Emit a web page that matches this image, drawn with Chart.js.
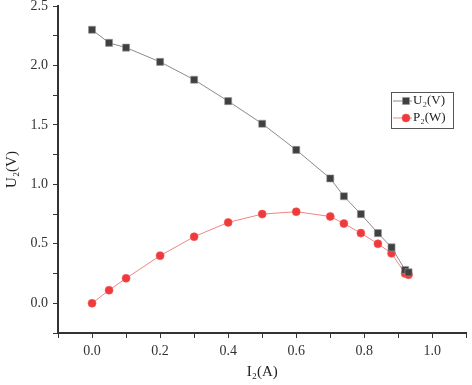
<!DOCTYPE html>
<html>
<head>
<meta charset="utf-8">
<script src="https://cdn.jsdelivr.net/npm/chart.js@4"></script>
<style>
  html, body { margin: 0; padding: 0; background: #fff; }
  #wrap { width: 472px; height: 385px; }
</style>
</head>
<body>
<div id="wrap"><canvas id="myChart" width="472" height="385"></canvas></div>
<script>
// current I2 (A)
const current = [0, 0.05, 0.1, 0.2, 0.3, 0.4, 0.5, 0.6, 0.7, 0.74, 0.79, 0.84, 0.88, 0.92, 0.93];
// voltage U2 (V)
const voltage = [2.30, 2.19, 2.15, 2.03, 1.88, 1.70, 1.51, 1.29, 1.05, 0.90, 0.75, 0.59, 0.47, 0.28, 0.26];
// power P2 (W)
const power = [0, 0.11, 0.21, 0.40, 0.56, 0.68, 0.75, 0.77, 0.73, 0.67, 0.59, 0.50, 0.42, 0.25, 0.24];

const xTicks = [-0.1, 0, 0.1, 0.2, 0.3, 0.4, 0.5, 0.6, 0.7, 0.8, 0.9, 1.0, 1.1];
const xLabels = [0, 0.2, 0.4, 0.6, 0.8, 1.0];
const yTicks = [-0.25, 0, 0.25, 0.5, 0.75, 1.0, 1.25, 1.5, 1.75, 2.0, 2.25, 2.5];
const yLabels = [0, 0.5, 1.0, 1.5, 2.0, 2.5];

const seriesNames = ["U\u2082(V)", "P\u2082(W)"];

const serif = "'Liberation Serif', 'DejaVu Serif', serif";
const axisColor = "#333";

const showIf = (list) => (v) => {
  const hit = list.find((t) => Math.abs(t - v) < 1e-6);
  return hit === undefined ? "" : hit.toFixed(1);
};

// legend box like the original: line with marker in the middle
const boxLegend = {
  id: "boxLegend",
  afterDraw(chart) {
    const ctx = chart.ctx;
    const x0 = 391, y0 = 92, w = 62, h = 36;
    ctx.save();
    ctx.strokeStyle = "#555";
    ctx.lineWidth = 1;
    ctx.strokeRect(x0 + 0.5, y0 + 0.5, w, h);
    ctx.font = "13px " + serif;
    ctx.textBaseline = "middle";
    chart.data.datasets.forEach((ds, i) => {
      const yy = y0 + 9 + i * 17;
      ctx.strokeStyle = ds.borderColor;
      ctx.lineWidth = 1;
      ctx.beginPath();
      ctx.moveTo(x0 + 2, yy);
      ctx.lineTo(x0 + 21, yy);
      ctx.stroke();
      ctx.fillStyle = ds.pointBackgroundColor;
      ctx.strokeStyle = ds.pointBorderColor;
      ctx.lineWidth = ds.pointBorderWidth;
      ctx.beginPath();
      if (ds.pointStyle === "rect") {
        const s = ds.pointRadius * Math.SQRT1_2;
        ctx.rect(x0 + 15 - s, yy - s, 2 * s, 2 * s);
      } else {
        ctx.arc(x0 + 15, yy, ds.pointRadius, 0, Math.PI * 2);
      }
      ctx.fill();
      ctx.stroke();
      ctx.fillStyle = "#222";
      ctx.fillText(ds.label, x0 + 22, yy);
    });
    ctx.restore();
  },
};

const data = {
  datasets: [
    {
      label: seriesNames[0],
      data: current.map((c, i) => ({ x: c, y: voltage[i] })),
      borderColor: "#8a8a8a",
      borderWidth: 1,
      pointStyle: "rect",
      pointRadius: 5,
      pointBackgroundColor: "#404040",
      pointBorderColor: "#9a9a9a",
      pointBorderWidth: 0.6,
      tension: 0,
    },
    {
      label: seriesNames[1],
      data: current.map((c, i) => ({ x: c, y: power[i] })),
      borderColor: "#f08585",
      borderWidth: 1,
      pointStyle: "circle",
      pointRadius: 4,
      pointBackgroundColor: "#f03a3a",
      pointBorderColor: "#f05a5a",
      pointBorderWidth: 0.6,
      tension: 0,
    },
  ],
};

const config = {
  type: "line",
  data: data,
  plugins: [boxLegend],
  options: {
    responsive: false,
    animation: false,
    layout: { padding: { top: 6, right: 3, left: 0, bottom: 0 } },
    plugins: {
      legend: { display: false },
      tooltip: { enabled: false },
    },
    scales: {
      x: {
        type: "linear",
        min: -0.1,
        max: 1.1,
        afterBuildTicks: (scale) => { scale.ticks = xTicks.map((v) => ({ value: v })); },
        afterFit: (scale) => {
          scale.height = 52;
          scale.paddingLeft = 0;
          scale.paddingRight = 0;
        },
        border: { display: true, color: axisColor, width: 2 },
        grid: { drawOnChartArea: false, tickLength: 5, color: axisColor },
        ticks: {
          autoSkip: false,
          maxRotation: 0,
          padding: 5,
          color: "#333",
          font: { family: serif, size: 14 },
          callback: showIf(xLabels),
        },
        title: {
          display: true,
          text: "I\u2082(A)",
          color: "#222",
          font: { family: serif, size: 15 },
          padding: { top: 0, bottom: 4 },
        },
      },
      y: {
        type: "linear",
        min: -0.25,
        max: 2.5,
        afterBuildTicks: (scale) => { scale.ticks = yTicks.map((v) => ({ value: v })); },
        afterFit: (scale) => {
          scale.width = 58;
          scale.paddingTop = 0;
          scale.paddingBottom = 0;
        },
        border: { display: true, color: axisColor, width: 2 },
        grid: { drawOnChartArea: false, tickLength: 5, color: axisColor },
        ticks: {
          autoSkip: false,
          padding: 5,
          color: "#333",
          font: { family: serif, size: 14 },
          callback: showIf(yLabels),
        },
        title: {
          display: true,
          text: "U\u2082(V)",
          color: "#222",
          font: { family: serif, size: 15 },
          padding: { top: 3, bottom: 0 },
        },
      },
    },
  },
};

const myChart = new Chart(document.getElementById("myChart"), config);
</script>
</body>
</html>
